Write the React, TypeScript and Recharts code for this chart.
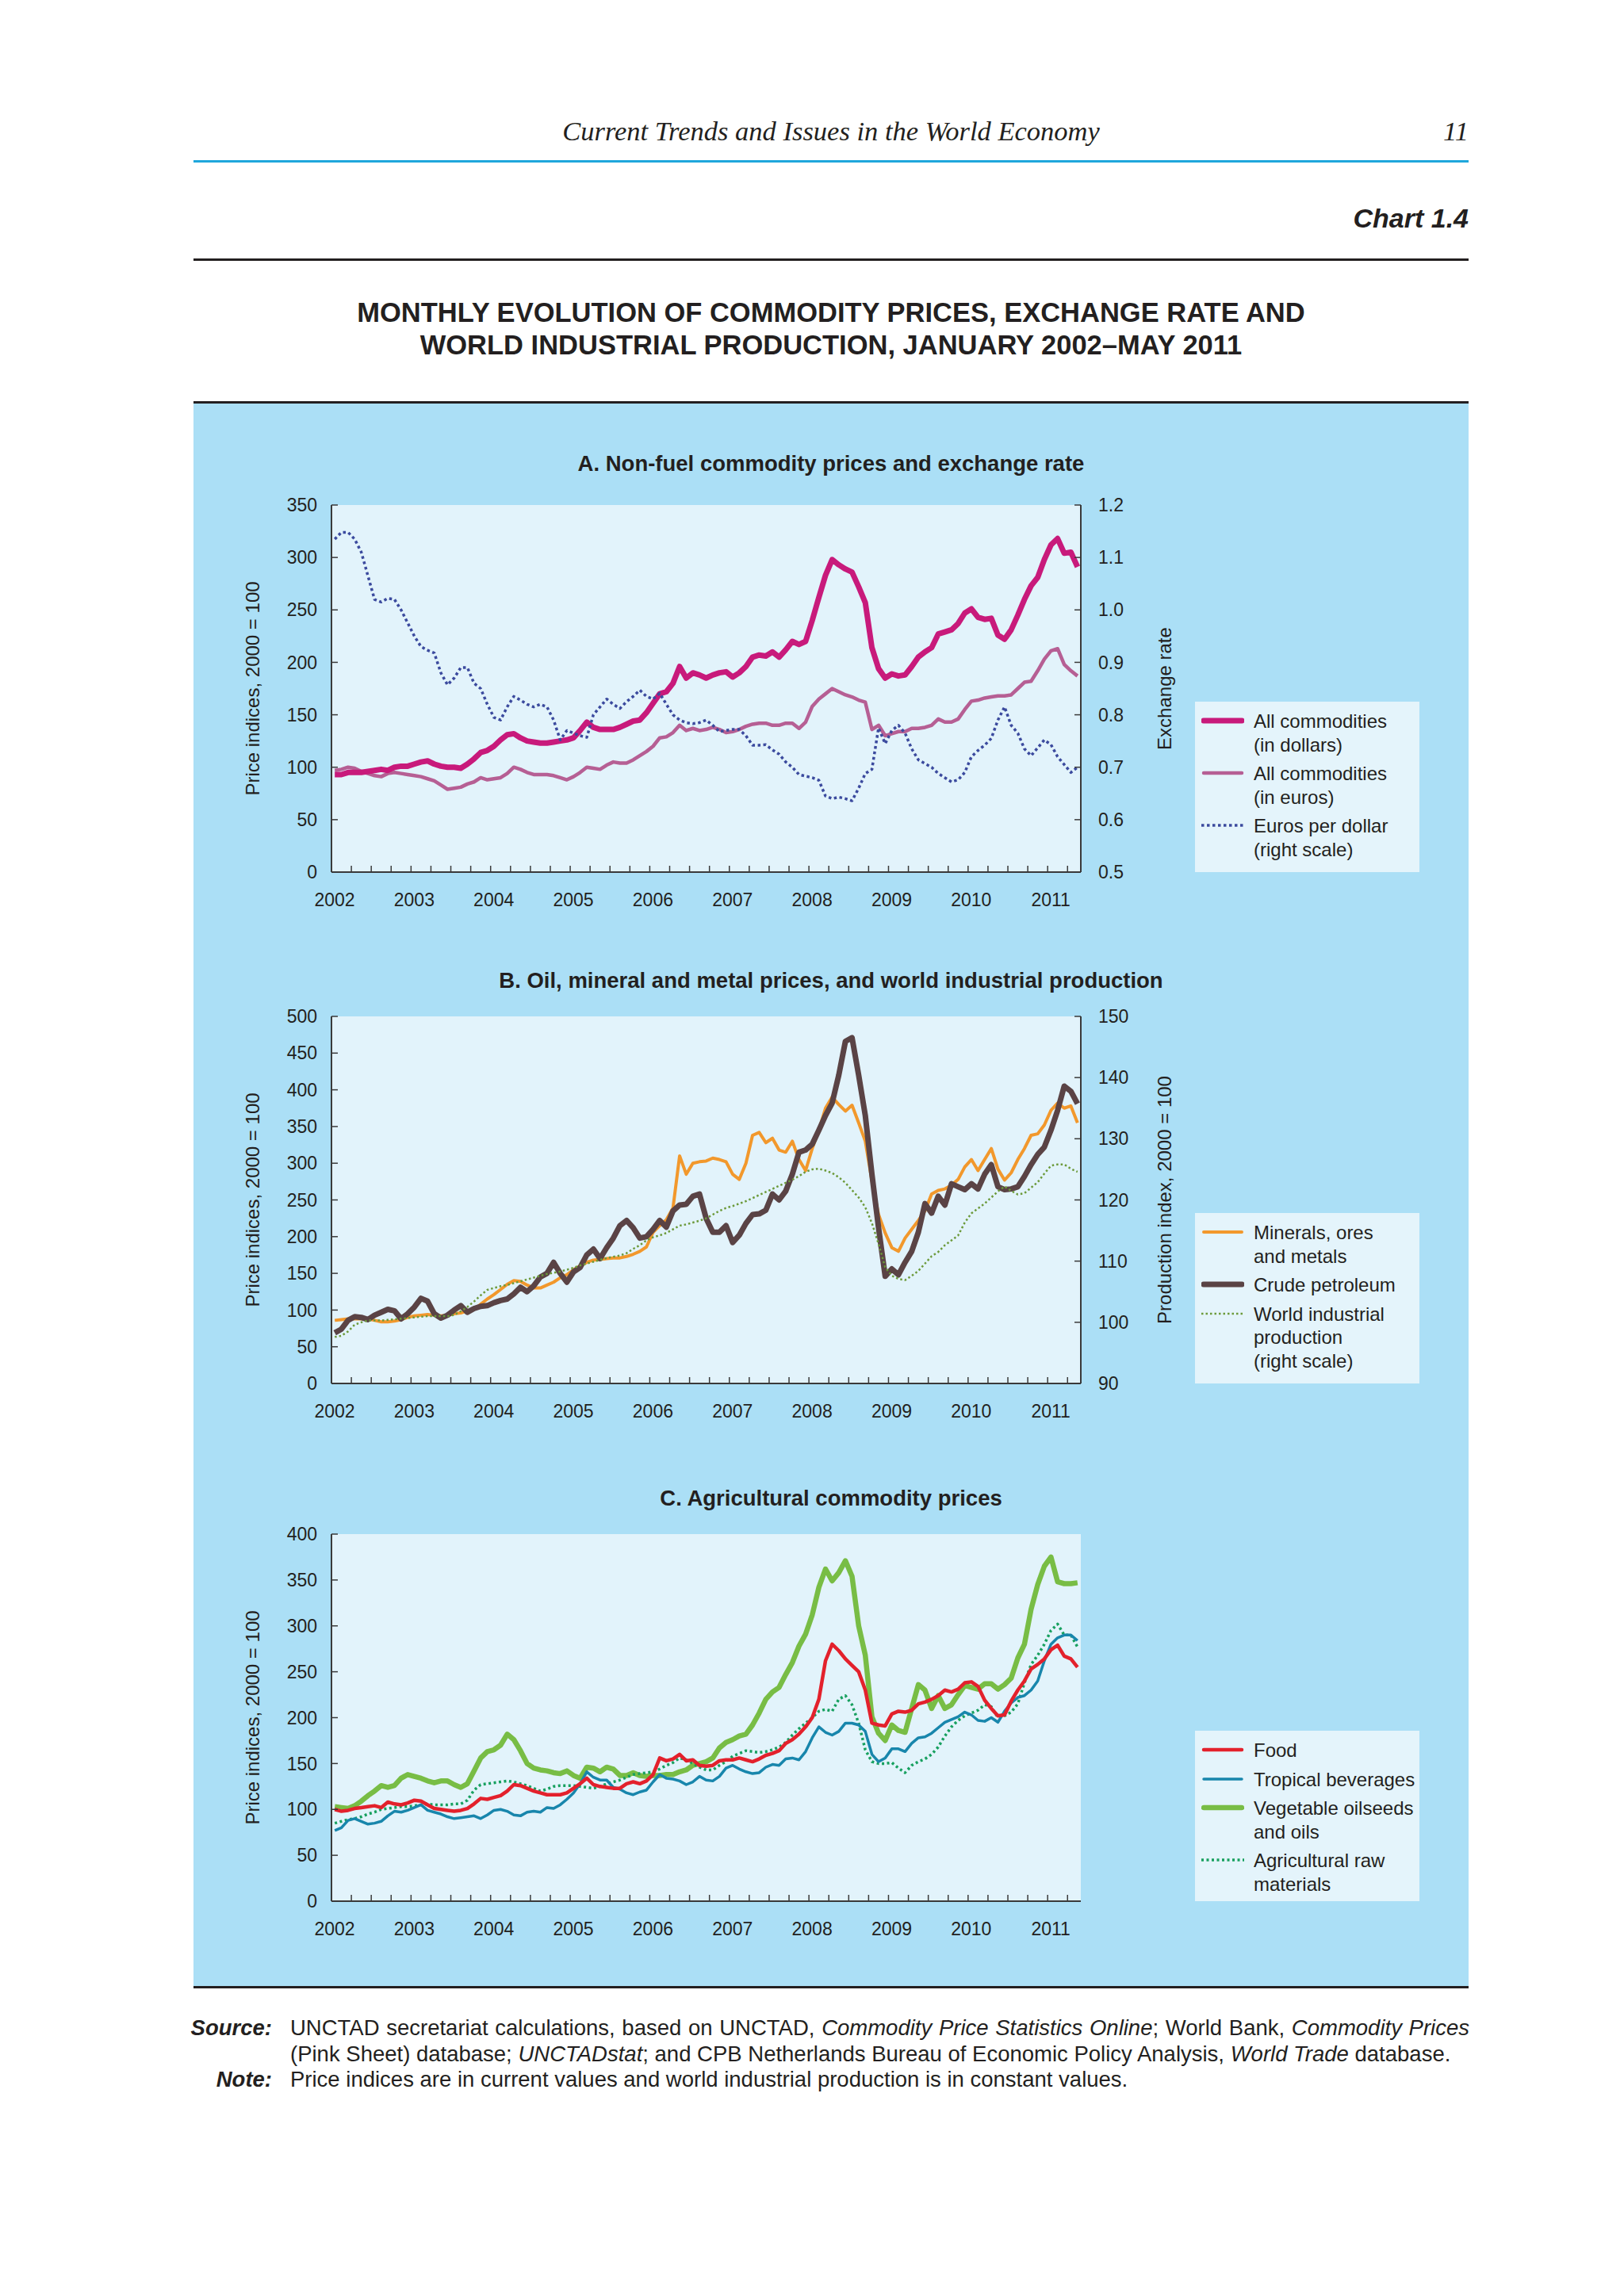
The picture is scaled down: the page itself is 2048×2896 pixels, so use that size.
import React from 'react'
import { CartesianGrid, Legend, Line, LineChart, XAxis, YAxis } from 'recharts'

const FONT = '"Liberation Sans", Arial, sans-serif'
const SERIF = '"Liberation Serif", "Times New Roman", serif'
const TEXT = '#231f20'
const AXIS = '#3a3a3a'
const PANEL_BG = '#abdff6'
const PLOT_BG = '#e2f3fb'
const LEGEND_BG = '#e4f4fb'

const YEARS = ['2002', '2003', '2004', '2005', '2006', '2007', '2008', '2009', '2010', '2011']

// monthly values, Jan 2002 - May 2011
const allDollars = [
  93, 93, 95, 95, 95, 96, 97, 98, 97, 100, 101, 101,
  103, 105, 106, 103, 101, 100, 100, 99, 103, 108, 114, 116,
  120, 126, 131, 132, 128, 125, 124, 123, 123, 124, 125, 126,
  128, 135, 143, 138, 136, 136, 136, 138, 141, 144, 145, 152,
  161, 170, 172, 180, 196, 185, 190, 188, 185, 188, 190, 191,
  186, 190, 196, 205, 207, 206, 210, 205, 212, 220, 217, 220,
  240, 262, 283, 298, 293, 289, 286, 272, 257, 214, 194, 185,
  189, 187, 188, 196, 205, 210, 214, 227, 229, 231, 237, 247,
  251, 243, 241, 242, 226, 222, 231, 245, 260, 273, 281, 298,
  312, 318, 304, 305, 291,
]
const allEuros = [
  97, 98, 100, 99, 96, 94, 92, 91, 94, 95, 94, 93,
  92, 91, 89, 87, 83, 79, 80, 81, 84, 86, 90, 88,
  89, 90, 94, 100, 98, 95, 93, 93, 93, 92, 90, 88,
  91, 95, 100, 99, 98, 102, 105, 104, 104, 107, 111, 115,
  120, 128, 129, 133, 140, 135, 137, 135, 136, 138, 136, 133,
  134, 136, 139, 141, 142, 142, 140, 140, 142, 142, 137, 143,
  158, 165, 170, 175, 172, 169, 167, 164, 162, 136, 140, 130,
  132, 134, 134, 137, 137, 138, 140, 146, 143, 143, 146, 155,
  163, 164, 166, 167, 168, 168, 169, 175, 181, 182, 192, 203,
  211, 213, 198, 192, 187,
]
const eurosPerDollar = [
  1.135, 1.148, 1.148, 1.135, 1.11, 1.065, 1.02, 1.015, 1.022, 1.02, 1.0, 0.975,
  0.95, 0.93, 0.923, 0.918, 0.88, 0.857, 0.87, 0.89, 0.89, 0.86, 0.85, 0.82,
  0.795, 0.79, 0.815, 0.835, 0.828, 0.82, 0.815, 0.82, 0.815, 0.79, 0.752, 0.77,
  0.765, 0.76, 0.757, 0.8, 0.815, 0.83, 0.82, 0.812, 0.825, 0.835, 0.847, 0.835,
  0.83, 0.841, 0.82, 0.8, 0.79, 0.785, 0.783, 0.785, 0.79, 0.78, 0.768, 0.77,
  0.772, 0.772, 0.76, 0.742, 0.742, 0.743, 0.733, 0.725, 0.71, 0.7, 0.686, 0.683,
  0.68, 0.675, 0.645, 0.64, 0.643, 0.64, 0.636, 0.66, 0.688, 0.696, 0.775, 0.745,
  0.77, 0.78, 0.765, 0.735, 0.714, 0.707, 0.7, 0.688, 0.68, 0.672, 0.676, 0.69,
  0.72, 0.732, 0.742, 0.755, 0.79, 0.815, 0.78, 0.765, 0.735, 0.722, 0.737, 0.752,
  0.743, 0.72, 0.705, 0.69, 0.7,
]

const minerals = [
  86, 87, 88, 88, 88, 88, 86, 84, 84, 85, 87, 90,
  92, 93, 94, 93, 92, 93, 95, 96, 99, 101, 108, 115,
  121, 128, 135, 140, 139, 134, 130, 130, 134, 138, 144, 148,
  155, 160, 165, 168, 169, 170, 171, 171, 173, 176, 180, 186,
  206, 215, 223, 239, 310, 285, 300, 302, 303, 307, 305, 302,
  285, 278, 300, 338, 342, 328, 334, 318, 315, 330, 305, 290,
  320, 345, 375, 390, 380, 371, 379, 355, 330, 276, 230, 205,
  185, 180, 198, 210, 222, 235, 258, 263, 265, 270, 278, 295,
  305, 290, 305, 320, 292, 277, 287, 305, 320, 338, 340, 352,
  372, 382, 375, 378, 355,
]
const crude = [
  69, 74, 86, 91, 90, 87, 93, 97, 101, 99, 88, 95,
  104, 116, 112, 95, 89, 93, 100, 106, 97, 102, 105, 106,
  110, 113, 115, 122, 131, 125, 133, 145, 150, 165, 150, 138,
  152, 158, 175, 183, 170, 185, 198, 215, 222, 212, 198, 200,
  210, 222, 213, 235, 243, 244, 255, 258, 225, 206, 206, 215,
  192, 202, 218, 230, 231, 236, 258, 250, 262, 285, 315, 318,
  326, 345, 365, 382, 420, 466, 471, 420, 365, 285, 212, 146,
  156, 148, 165, 180, 206, 245, 232, 255, 243, 272, 268, 264,
  272, 265, 285, 298, 268, 264, 265, 268, 282, 298, 312, 322,
  345, 372, 405, 398, 381,
]
const industrialProduction = [
  97.6, 97.8, 98.5, 99.6, 100, 100.3, 100.3, 100.3, 100.4, 100.5, 100.6, 100.7,
  100.8, 100.9, 101, 101, 101, 101, 101.2, 101.8, 102.5, 103.4, 104.4, 105.3,
  105.6, 105.9, 106.1, 106.4, 106.7, 107, 107.3, 107.6, 107.9, 108.1, 108.3, 108.6,
  108.9, 109.3, 109.6, 109.9, 110.2, 110.5, 110.7, 110.9, 111.3, 112, 112.6, 113.4,
  113.9, 114.2, 114.6, 115.2, 115.8, 116, 116.3, 116.6, 117, 117.6, 118.2, 118.7,
  119, 119.4, 119.8, 120.3, 120.8, 121.3, 121.8, 122.3, 122.8, 123.3, 123.9, 124.6,
  125, 125.1, 124.8, 124.4, 123.7, 122.8, 121.6, 120.4, 118.8, 116.2, 112.8, 109,
  107.6, 107.1, 106.9, 107.6, 108.4, 109.6, 110.8, 111.5, 112.6, 113.4, 114.2, 116.3,
  117.8, 118.6, 119.4, 120.4, 121.4, 122.2, 121.5, 120.9, 121.1, 122, 122.9, 124.3,
  125.6, 125.8, 125.8, 125.1, 124.6,
]

const food = [
  100, 98, 99, 101, 102, 103, 104, 102, 108, 106, 105, 107,
  110, 109, 105, 101, 100, 99, 98, 99, 101, 106, 112, 111,
  113, 115, 120, 127, 126, 123, 120, 118, 116, 116, 116, 118,
  123, 128, 134, 127, 125, 124, 123, 123, 128, 130, 128, 131,
  138, 156, 153, 155, 160, 153, 154, 148, 147, 148, 153, 154,
  154, 156, 154, 152, 155, 159, 161, 164, 172, 176, 182, 190,
  200, 220, 262, 280, 273, 264, 257, 250, 230, 194, 192, 191,
  204, 207, 206, 208, 215, 217, 220, 224, 230, 228, 231, 238,
  239, 234, 219, 210, 202, 203, 218, 230, 240, 253, 258, 264,
  274, 279, 267, 264, 255,
]
const beverages = [
  77, 80, 88, 90, 87, 84, 85, 87, 93, 98, 97, 99,
  102, 105, 99, 97, 95, 92, 90, 91, 92, 93, 90, 94,
  99, 100, 98, 94, 93, 97, 98, 97, 102, 101, 105, 111,
  118, 128, 141, 135, 132, 132, 124, 122, 118, 116, 119, 121,
  130, 138, 134, 133, 131, 127, 130, 136, 132, 131, 136, 145,
  148, 144, 141, 139, 140, 146, 149, 148, 155, 156, 154, 163,
  178, 190, 184, 181, 185, 194, 194, 192, 185, 160, 152, 156,
  166, 166, 163, 172, 178, 179, 183, 189, 195, 198, 201, 206,
  203, 197, 196, 200, 195, 207, 216, 222, 224, 230, 240, 262,
  280, 287, 290, 290, 284,
]
const oilseeds = [
  103, 102, 101, 104, 109, 115, 120, 126, 124, 126, 134, 138,
  136, 134, 131, 129, 131, 131, 127, 124, 128, 142, 156, 163,
  165, 170, 182, 176, 164, 150, 145, 143, 142, 140, 139, 142,
  137, 134, 146, 145, 141, 146, 144, 137, 137, 140, 137, 136,
  137, 137, 138, 138, 141, 143, 148, 150, 152, 156, 167, 173,
  176, 180, 182, 192, 205, 220, 228, 233, 247, 260, 278, 291,
  312, 342, 362, 349, 358, 371, 354, 300, 268, 201, 183, 175,
  192, 186, 184, 210, 236, 230, 210, 224, 210, 214, 225, 235,
  233, 231, 237, 237, 231, 236, 243, 265, 280, 318, 345, 365,
  375, 348, 346, 346, 347,
]
const rawMaterials = [
  85, 87, 89, 90, 92, 95, 97, 100, 101, 102, 103, 103,
  104, 105, 106, 105, 105, 105, 106, 106, 110, 121, 127, 128,
  129, 130, 131, 130, 128, 126, 123, 120, 122, 125, 126, 126,
  126, 125, 124, 123, 125, 128, 130, 132, 135, 138, 139, 140,
  141, 144, 148, 151, 156, 154, 150, 146, 143, 143, 148, 152,
  158, 161, 164, 163, 162, 163, 165, 168, 173, 181, 188, 194,
  200, 207, 209, 207, 220, 224, 214, 194, 165, 152, 150, 150,
  151, 145, 140, 148, 152, 155, 160, 168, 180, 190, 197, 202,
  205, 208, 214, 212, 200, 202, 206, 215, 238, 258, 268, 280,
  295, 302, 290, 290, 277,
]

const dataA = allDollars.map((v, m) => ({ m, dollars: v, euros: allEuros[m], eurPerUsd: eurosPerDollar[m] }))
const dataB = minerals.map((v, m) => ({ m, minerals: v, crude: crude[m], production: industrialProduction[m] }))
const dataC = food.map((v, m) => ({ m, food: v, beverages: beverages[m], oilseeds: oilseeds[m], raw: rawMaterials[m] }))

const SERIES_A = [
  { key: 'dollars', label: ['All commodities', '(in dollars)'], color: '#c81a7b', width: 7, axis: 'l' },
  { key: 'euros', label: ['All commodities', '(in euros)'], color: '#b65f94', width: 4.5, axis: 'l' },
  { key: 'eurPerUsd', label: ['Euros per dollar', '(right scale)'], color: '#3b4a9e', width: 3.5, dash: '3.5 3.5', axis: 'r' },
]
const SERIES_B = [
  { key: 'minerals', label: ['Minerals, ores', 'and metals'], color: '#f2982c', width: 4, axis: 'l' },
  { key: 'crude', label: ['Crude petroleum'], color: '#5a4345', width: 7, axis: 'l' },
  { key: 'production', label: ['World industrial', 'production', '(right scale)'], color: '#6c9a3b', width: 2.5, dash: '2.5 3', axis: 'r' },
]
const SERIES_C = [
  { key: 'food', label: ['Food'], color: '#e3212c', width: 4.5, axis: 'l' },
  { key: 'beverages', label: ['Tropical beverages'], color: '#1886ac', width: 3.5, axis: 'l' },
  { key: 'oilseeds', label: ['Vegetable oilseeds', 'and oils'], color: '#78bd45', width: 6.5, axis: 'l' },
  { key: 'raw', label: ['Agricultural raw', 'materials'], color: '#17a05f', width: 3.5, dash: '3 3.5', axis: 'l' },
]

// each month is a band; tick marks sit on quarter boundaries
const quarterTicks = Array.from({ length: 38 }, (_, i) => i * 3 - 0.5)
const yearLabel = (t: number) => ((t + 0.5) % 12 === 0 ? YEARS[(t + 0.5) / 12] : '')
const tickStyle = { fontSize: 23, fill: TEXT, fontFamily: FONT }

const axisTitle = (text: string, dx: number) => (props: any) => {
  const vb = props.viewBox || { x: 0, y: 0, width: 0, height: 0 }
  const cx = vb.x + dx
  const cy = vb.y + vb.height / 2
  return (
    <text x={cx} y={cy} transform={`rotate(-90 ${cx} ${cy})`} textAnchor="middle" dominantBaseline="central" fontSize={24} fill={TEXT} fontFamily={FONT}>
      {text}
    </text>
  )
}

function LegendBox({ items }: { items: any[] }) {
  return (
    <div style={{ background: LEGEND_BG, width: 283, height: 215, boxSizing: 'border-box', padding: '10px 0 0 8px', fontFamily: FONT }}>
      {items.map((s, i) => (
        <div key={s.key} style={{ display: 'flex', alignItems: 'flex-start', marginTop: i ? 7 : 0 }}>
          <svg width={54} height={29} style={{ flex: 'none', marginRight: 12, display: 'block' }}>
            <line x1={s.dash ? 0 : 3} x2={s.dash ? 54 : 51} y1={14} y2={14} stroke={s.color} strokeWidth={s.width} strokeDasharray={s.dash} strokeLinecap={s.dash ? 'butt' : 'round'} />
          </svg>
          <div style={{ fontSize: 24, lineHeight: '29.5px', color: TEXT, whiteSpace: 'nowrap' }}>
            {s.label.map((t: string) => <div key={t}>{t}</div>)}
          </div>
        </div>
      ))}
    </div>
  )
}

type PanelProps = {
  top: number
  data: any[]
  series: any[]
  drawOrder: string[]
  leftMax: number
  leftTitle: string
  rightDomain?: [number, number]
  rightTicks?: number[]
  rightFormat?: (v: number) => string
  rightTitle?: string
}

function Panel({ top, data, series, drawOrder, leftMax, leftTitle, rightDomain, rightTicks, rightFormat, rightTitle }: PanelProps) {
  const leftTicks = Array.from({ length: leftMax / 50 + 1 }, (_, i) => i * 50)
  const hasRight = !!rightDomain
  return (
    <div style={{ position: 'absolute', left: 244, top }}>
      <LineChart width={1608} height={651} data={data} margin={{ top: 128, right: hasRight ? 364 : 489, bottom: 0, left: 0 }}>
        <CartesianGrid fill={PLOT_BG} stroke="none" horizontal={false} vertical={false} yAxisId="l" />
        <XAxis
          type="number"
          dataKey="m"
          domain={[-0.5, 112.5]}
          ticks={quarterTicks}
          interval={0}
          tickFormatter={yearLabel}
          height={60}
          tickSize={-8}
          tickMargin={35}
          stroke={AXIS}
          axisLine={{ stroke: AXIS, strokeWidth: 2 }}
          tickLine={{ stroke: AXIS, strokeWidth: 1.5 }}
          tick={{ ...tickStyle, dx: 4 }}
        />
        <YAxis
          yAxisId="l"
          type="number"
          width={174}
          domain={[0, leftMax]}
          ticks={leftTicks}
          interval={0}
          tickSize={-8}
          tickMargin={26}
          stroke={AXIS}
          axisLine={{ stroke: AXIS, strokeWidth: 2 }}
          tickLine={{ stroke: AXIS, strokeWidth: 1.5 }}
          tick={tickStyle}
          label={{ value: leftTitle, content: axisTitle(leftTitle, 74) }}
        />
        {hasRight && (
          <YAxis
            yAxisId="r"
            orientation="right"
            type="number"
            width={125}
            domain={rightDomain}
            ticks={rightTicks}
            interval={0}
            tickFormatter={rightFormat}
            tickSize={-8}
            tickMargin={30}
            stroke={AXIS}
            axisLine={{ stroke: AXIS, strokeWidth: 2 }}
            tickLine={{ stroke: AXIS, strokeWidth: 1.5 }}
            tick={{ ...tickStyle, textAnchor: 'start' }}
            label={{ value: rightTitle, content: axisTitle(rightTitle || '', 105) }}
          />
        )}
        {drawOrder.map((k) => {
          const s = series.find((x) => x.key === k)
          return (
            <Line
              key={s.key}
              yAxisId={s.axis}
              dataKey={s.key}
              type="linear"
              stroke={s.color}
              strokeWidth={s.width}
              strokeDasharray={s.dash}
              strokeLinejoin="round"
              dot={false}
              activeDot={false}
              isAnimationActive={false}
            />
          )
        })}
        <Legend
          layout="vertical"
          align="center"
          verticalAlign="middle"
          content={() => <LegendBox items={series} />}
          wrapperStyle={{ left: 1263, top: 376, width: 283, height: 215 }}
        />
      </LineChart>
    </div>
  )
}

const rule = (top: number, color: string) => (
  <div style={{ position: 'absolute', left: 244, top, width: 1608, height: 3, background: color }} />
)

const panelTitle = (top: number, text: string) => (
  <div style={{ position: 'absolute', left: 244, width: 1608, top, textAlign: 'center', fontSize: 27.5, lineHeight: '28px', fontWeight: 'bold', color: TEXT }}>
    {text}
  </div>
)

export default function App() {
  return (
    <div style={{ position: 'absolute', left: 0, top: 0, width: 2048, height: 2896, background: '#fff', fontFamily: FONT, color: TEXT }}>
      <div style={{ position: 'absolute', left: 244, width: 1608, top: 148, textAlign: 'center', fontFamily: SERIF, fontStyle: 'italic', fontSize: 34.5, lineHeight: '35px' }}>
        Current Trends and Issues in the World Economy
      </div>
      <div style={{ position: 'absolute', right: 2048 - 1852, top: 148, fontFamily: SERIF, fontStyle: 'italic', fontSize: 34.5, lineHeight: '35px' }}>11</div>
      {rule(202, '#1fa7dc')}
      <div style={{ position: 'absolute', right: 2048 - 1852, top: 258, fontWeight: 'bold', fontStyle: 'italic', fontSize: 34, lineHeight: '34px' }}>Chart 1.4</div>
      {rule(326, TEXT)}
      <div style={{ position: 'absolute', left: 244, width: 1608, top: 374, textAlign: 'center', fontWeight: 'bold', fontSize: 34.5, lineHeight: '41px' }}>
        <div>MONTHLY EVOLUTION OF COMMODITY PRICES, EXCHANGE RATE AND</div>
        <div>WORLD INDUSTRIAL PRODUCTION, JANUARY 2002–MAY 2011</div>
      </div>
      {rule(506, TEXT)}
      <div style={{ position: 'absolute', left: 244, top: 509, width: 1608, height: 1996, background: PANEL_BG }} />
      {rule(2505, TEXT)}

      {panelTitle(571, 'A. Non-fuel commodity prices and exchange rate')}
      <Panel
        top={509}
        data={dataA}
        series={SERIES_A}
        drawOrder={['euros', 'dollars', 'eurPerUsd']}
        leftMax={350}
        leftTitle="Price indices, 2000 = 100"
        rightDomain={[0.5, 1.2]}
        rightTicks={[0.5, 0.6, 0.7, 0.8, 0.9, 1.0, 1.1, 1.2]}
        rightFormat={(v) => v.toFixed(1)}
        rightTitle="Exchange rate"
      />

      {panelTitle(1223, 'B. Oil, mineral and metal prices, and world industrial production')}
      <Panel
        top={1154}
        data={dataB}
        series={SERIES_B}
        drawOrder={['minerals', 'crude', 'production']}
        leftMax={500}
        leftTitle="Price indices, 2000 = 100"
        rightDomain={[90, 150]}
        rightTicks={[90, 100, 110, 120, 130, 140, 150]}
        rightFormat={(v) => String(v)}
        rightTitle="Production index, 2000 = 100"
      />

      {panelTitle(1876, 'C. Agricultural commodity prices')}
      <Panel
        top={1807}
        data={dataC}
        series={SERIES_C}
        drawOrder={['oilseeds', 'raw', 'beverages', 'food']}
        leftMax={400}
        leftTitle="Price indices, 2000 = 100"
      />

      <div style={{ position: 'absolute', left: 244, top: 2542, width: 1608, fontSize: 27.5, lineHeight: '32.5px' }}>
        <div style={{ position: 'absolute', right: 1608 - 99, top: 0, fontWeight: 'bold', fontStyle: 'italic' }}>Source:</div>
        <div style={{ position: 'absolute', right: 1608 - 99, top: 65, fontWeight: 'bold', fontStyle: 'italic' }}>Note:</div>
        <div style={{ position: 'absolute', left: 122, width: 1487, top: 0 }}>
          <div style={{ textAlign: 'justify', textAlignLast: 'justify', whiteSpace: 'nowrap' }}>
            UNCTAD secretariat calculations, based on UNCTAD, <i>Commodity Price Statistics Online</i>; World Bank, <i>Commodity Prices</i>
          </div>
          <div style={{ whiteSpace: 'nowrap' }}>
            (Pink Sheet) database; <i>UNCTADstat</i>; and CPB Netherlands Bureau of Economic Policy Analysis, <i>World Trade</i> database.
          </div>
          <div>Price indices are in current values and world industrial production is in constant values.</div>
        </div>
      </div>
    </div>
  )
}
